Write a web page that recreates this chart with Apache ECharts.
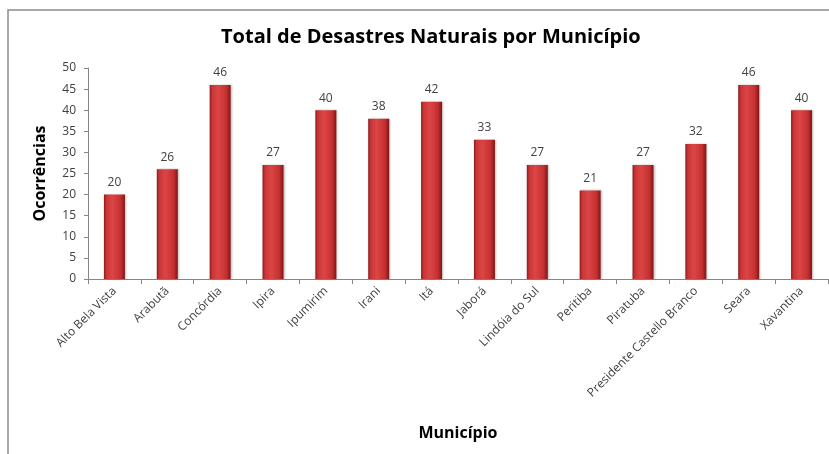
<!DOCTYPE html>
<html>
<head>
<meta charset="utf-8">
<script src="https://cdn.jsdelivr.net/npm/echarts@6/dist/echarts.min.js"></script>
<style>
  html, body { margin: 0; padding: 0; background: #fff; }
  #chart { width: 829px; height: 454px; }
</style>
</head>
<body>
<div id="chart"></div>
<script>
// dados do gráfico
var municipios = ['Alto Bela Vista', 'Arabutã', 'Concórdia', 'Ipira', 'Ipumirim', 'Irani', 'Itá',
  'Jaborá', 'Lindóia do Sul', 'Peritiba', 'Piratuba', 'Presidente Castello Branco', 'Seara', 'Xavantina'];
var ocorrencias = [20, 26, 46, 27, 40, 38, 42, 33, 27, 21, 27, 32, 46, 40];
var yTicks = [0, 5, 10, 15, 20, 25, 30, 35, 40, 45, 50];

var fonte = '"Open Sans", "Noto Sans", sans-serif';
var myChart = echarts.init(document.getElementById('chart'));

var option = {
  backgroundColor: '#fff',
  animation: false,
  title: {
    text: 'Total de Desastres Naturais por Município',
    left: 216,
    top: 22,
    textStyle: { fontFamily: fonte, fontSize: 20, fontWeight: 'bold', color: '#000' }
  },
  graphic: [{
    type: 'rect',
    shape: { x: 8, y: 10, width: 900, height: 500 },
    style: { fill: 'none', stroke: '#8c8c8c', lineWidth: 1.5 },
    silent: true
  }],
  grid: { left: 88, right: 1, top: 68, bottom: 175 },
  xAxis: {
    type: 'category',
    data: municipios,
    name: 'Município',
    nameLocation: 'middle',
    nameGap: 146,
    nameTextStyle: { fontFamily: fonte, fontSize: 16, fontWeight: 'bold', color: '#000' },
    axisLine: { lineStyle: { color: '#868686' } },
    axisTick: { show: true, length: 5, lineStyle: { color: '#868686' } },
    axisLabel: { rotate: 45, fontFamily: fonte, fontSize: 12, color: '#404040', margin: 10 }
  },
  yAxis: {
    type: 'value',
    min: yTicks[0],
    max: yTicks[yTicks.length - 1],
    interval: 5,
    name: 'Ocorrências',
    nameLocation: 'middle',
    nameGap: 40,
    nameTextStyle: { fontFamily: fonte, fontSize: 16, fontWeight: 'bold', color: '#000' },
    splitLine: { show: false },
    axisLine: { show: true, lineStyle: { color: '#868686' } },
    axisTick: { show: true, length: 4, lineStyle: { color: '#868686' } },
    axisLabel: { fontFamily: fonte, fontSize: 12, color: '#404040', margin: 12 }
  },
  series: [{
    type: 'bar',
    data: ocorrencias,
    barWidth: 21,
    itemStyle: {
      color: new echarts.graphic.LinearGradient(0, 0, 1, 0, [
        { offset: 0, color: '#8e1a1a' },
        { offset: 0.12, color: '#c93535' },
        { offset: 0.4, color: '#dc4545' },
        { offset: 0.8, color: '#c43030' },
        { offset: 1, color: '#7e1616' }
      ]),
      shadowColor: 'rgba(0,0,0,0.25)',
      shadowBlur: 2,
      shadowOffsetX: 1
    },
    label: {
      show: true,
      position: 'top',
      distance: 6,
      fontFamily: fonte,
      fontSize: 12,
      color: '#404040'
    }
  }]
};

myChart.setOption(option);
</script>
</body>
</html>
